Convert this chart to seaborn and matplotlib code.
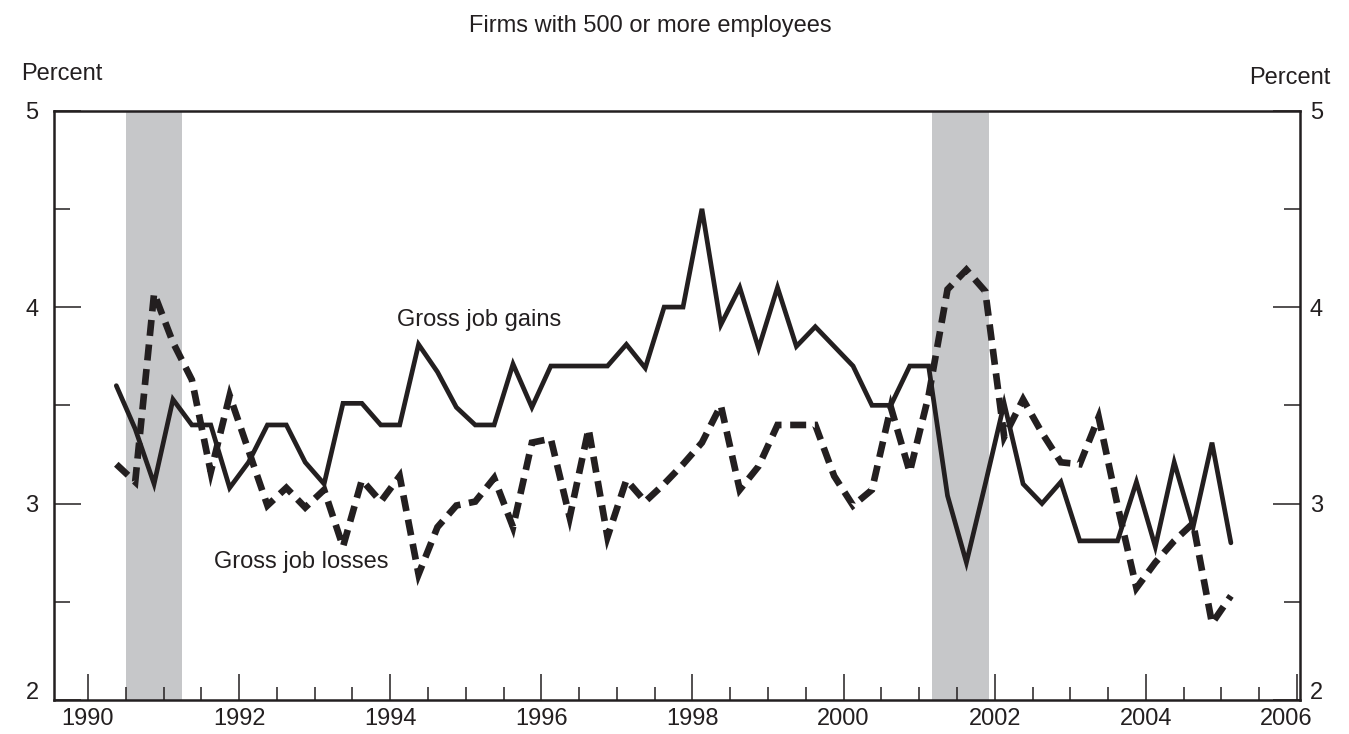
import matplotlib
matplotlib.use('Agg')
import matplotlib.pyplot as plt
import matplotlib.transforms as mtransforms
import seaborn as sns
import pandas as pd
from matplotlib.ticker import MultipleLocator

# Quarterly job flows, firms with 500+ employees (percent)
quarters = pd.period_range('1990Q2', '2005Q1', freq='Q')

gains = [3.60, 3.38, 3.10, 3.53, 3.40, 3.40, 3.08, 3.21, 3.40, 3.40,
         3.21, 3.10, 3.51, 3.51, 3.40, 3.40, 3.81, 3.67, 3.49, 3.40,
         3.40, 3.71, 3.49, 3.70, 3.70, 3.70, 3.70, 3.81, 3.69, 4.00,
         4.00, 4.50, 3.91, 4.10, 3.79, 4.10, 3.80, 3.90, 3.80, 3.70,
         3.50, 3.50, 3.70, 3.70, 3.04, 2.70, 3.10, 3.51, 3.10, 3.00,
         3.11, 2.81, 2.81, 2.81, 3.11, 2.78, 3.21, 2.88, 3.31, 2.80]

losses = [3.20, 3.11, 4.07, 3.82, 3.63, 3.16, 3.55, 3.27, 2.99, 3.08,
          2.98, 3.07, 2.78, 3.12, 3.01, 3.14, 2.64, 2.88, 2.99, 3.01,
          3.13, 2.88, 3.31, 3.33, 2.93, 3.38, 2.83, 3.12, 3.01, 3.10,
          3.20, 3.31, 3.50, 3.07, 3.19, 3.40, 3.40, 3.40, 3.14, 2.99,
          3.07, 3.49, 3.16, 3.55, 4.09, 4.19, 4.08, 3.34, 3.53, 3.36,
          3.21, 3.20, 3.44, 2.99, 2.57, 2.70, 2.81, 2.90, 2.39, 2.53]

# recession periods (decimal years)
recession_start = [1990.5, 2001.17]
recession_end = [1991.25, 2001.92]

ink = '#231f20'
shade = '#c6c7c9'
fs = 17

df = pd.DataFrame({
    'date': quarters.year + (quarters.quarter - 1) / 4 + 0.125,
    'gains': gains,
    'losses': losses,
})

sns.set_style('ticks')
plt.rcParams['font.family'] = ['Liberation Sans', 'DejaVu Sans']

fig = plt.figure(figsize=(13.49, 7.34), dpi=100)
ax = fig.add_axes([0.040, 0.0463, 0.9237, 0.803])

for s, e in zip(recession_start, recession_end):
    ax.axvspan(s, e, color=shade, lw=0, zorder=0)

sns.lineplot(data=df, x='date', y='gains', ax=ax, color=ink, lw=3.4,
             solid_joinstyle='miter')
sns.lineplot(data=df, x='date', y='losses', ax=ax, color=ink, lw=4.8,
             linestyle=(0, (2.4, 1.3)), dash_joinstyle='miter',
             dash_capstyle='butt')

ax.set_xlim(1989.55, 2006.04)
ax.set_ylim(2, 5)
ax.set_xlabel('')
ax.set_ylabel('')

ax.set_xticks(range(1990, 2007, 2))
ax.xaxis.set_minor_locator(MultipleLocator(0.5))
ax.set_yticks([2, 3, 4, 5])
ax.yaxis.set_minor_locator(MultipleLocator(0.5))

for sp in ax.spines.values():
    sp.set_visible(True)
    sp.set_linewidth(1.8)
    sp.set_color(ink)

ax.tick_params(axis='x', which='major', direction='in', length=19, width=1.1,
               pad=6, labelsize=fs, colors=ink, top=False)
ax.tick_params(axis='x', which='minor', direction='in', length=9.5, width=1.1,
               colors=ink, top=False)
ax.tick_params(axis='y', which='major', direction='in', length=19.5, width=1.1,
               pad=11, labelsize=fs, colors=ink)
ax.tick_params(axis='y', which='minor', direction='in', length=11.5, width=1.1,
               colors=ink)

# right-hand axis repeats the scale
ax2 = ax.twinx()
ax2.set_ylim(2, 5)
ax2.set_yticks([2, 3, 4, 5])
ax2.yaxis.set_minor_locator(MultipleLocator(0.5))
ax2.tick_params(axis='y', which='major', direction='in', length=19.5, width=1.1,
                pad=7, labelsize=fs, colors=ink)
ax2.tick_params(axis='y', which='minor', direction='in', length=11.5, width=1.1,
                colors=ink)
for sp in ax2.spines.values():
    sp.set_visible(False)

# nudge the bottom "2" labels up and the last year label left
up = mtransforms.ScaledTranslation(0, 7 / 72, fig.dpi_scale_trans)
for a in (ax, ax2):
    lab = a.get_yticklabels()[0]
    lab.set_transform(lab.get_transform() + up)
left = mtransforms.ScaledTranslation(-8 / 72, 0, fig.dpi_scale_trans)
last = ax.get_xticklabels()[-1]
last.set_transform(last.get_transform() + left)

ax.text(1995.18, 3.935, 'Gross job gains', fontsize=fs, color=ink,
        ha='center', va='center')
ax.text(1992.82, 2.70, 'Gross job losses', fontsize=fs, color=ink,
        ha='center', va='center')

fig.text(0.4818, 0.964, 'Firms with 500 or more employees', fontsize=fs,
         color=ink, ha='center', va='center')
fig.text(0.046, 0.899, 'Percent', fontsize=fs, color=ink, ha='center', va='center')
fig.text(0.956, 0.894, 'Percent', fontsize=fs, color=ink, ha='center', va='center')

fig.savefig('out.png', dpi=100)
